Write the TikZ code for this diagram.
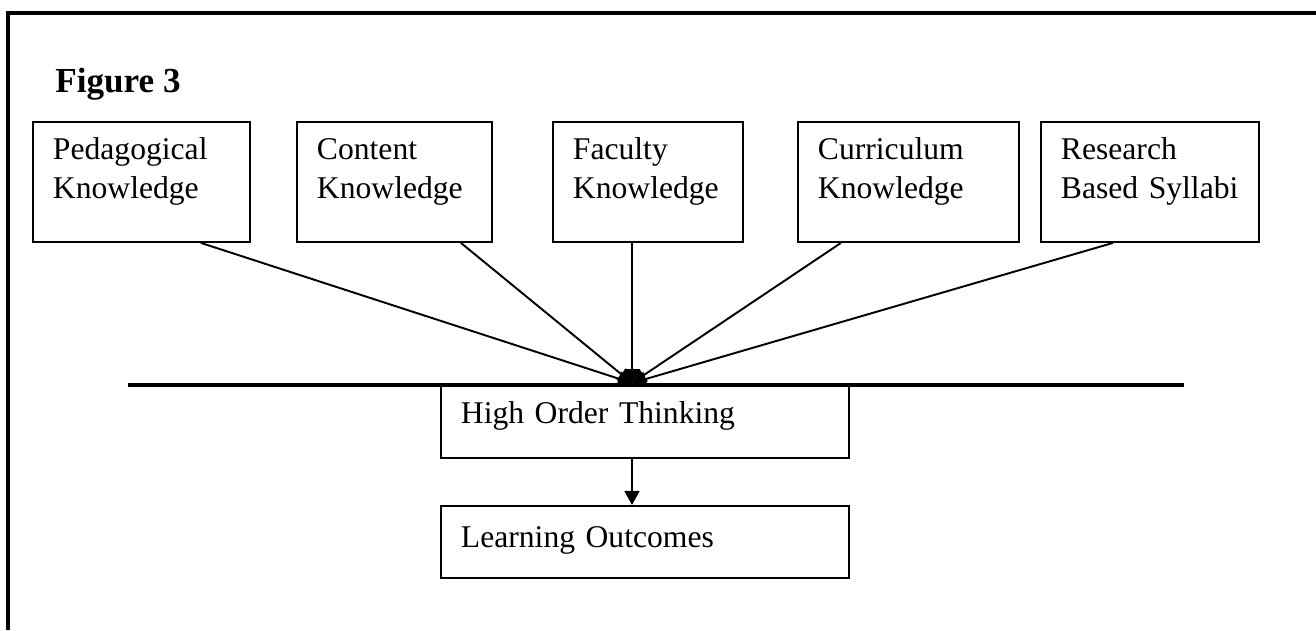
\documentclass[tikz,border=0pt]{standalone}
\usepackage{fontspec}
\setmainfont{Liberation Serif}
\usetikzlibrary{positioning,arrows.meta}

\tikzset{
  kbox/.style={rectangle, draw=black, line width=1.1pt, anchor=north west, align=left,
    inner xsep=0.4cm, inner ysep=0pt, text height=0.76cm, text depth=1.64cm,
    font=\fontsize{18}{22}\selectfont},
  conv/.style={line width=1.1pt, -{Triangle[length=0.28cm,width=0.3cm]}},
}

\begin{document}
\begin{tikzpicture}[x=0.02cm, y=-0.02cm, node distance=0.92cm]
       \useasboundingbox (0,0) rectangle (1316,630);
       % frame
       \draw[line width=2pt] (8,630) -- (8,13) -- (1316,13);
       \node[anchor=base west, inner sep=0pt, font=\fontsize{20}{24}\selectfont\bfseries] (fig) at (55,92) {Figure 3};

       % knowledge boxes
       \node[kbox, text width=3.54cm] (ped) at (32,121) {Pedagogical\\Knowledge};
       \node[kbox, text width=3.1cm]  (con) at (296,121) {Content\\Knowledge};
       \node[kbox, text width=3.0cm]  (fac) at (552,121) {Faculty\\Knowledge};
       \node[kbox, text width=3.62cm] (cur) at (797,121) {Curriculum\\Knowledge};
       \node[kbox, text width=3.56cm] (res) at (1040,121) {Research\\Based Syllabi};

       \coordinate (hub) at (632,383);
       \coordinate (barl) at (128,385);
       \coordinate (barr) at (1184,385);
       \draw[line width=1.9pt] (barl) -- (barr);

       \node[kbox, text width=7.36cm, text height=0.76cm, text depth=0.68cm] (hot) at (440,385) {High Order Thinking};
       \node[kbox, text width=7.36cm, text height=0.84cm, text depth=0.6cm, below=of hot] (lo) {Learning Outcomes};

       % connectors
       \draw[conv] ([xshift=1.19cm]ped.south) -- (hub);
       \draw[conv] ([xshift=1.33cm]con.south) -- (hub);
       \draw[conv] (fac.south -| hub) -- (hub);
       \draw[conv] ([xshift=-1.35cm]cur.south) -- (hub);
       \draw[conv] ([xshift=-0.74cm]res.south) -- (hub);
       \draw[conv] (hot.south -| hub) -- (lo.north -| hub);
    \end{tikzpicture}
\end{document}
